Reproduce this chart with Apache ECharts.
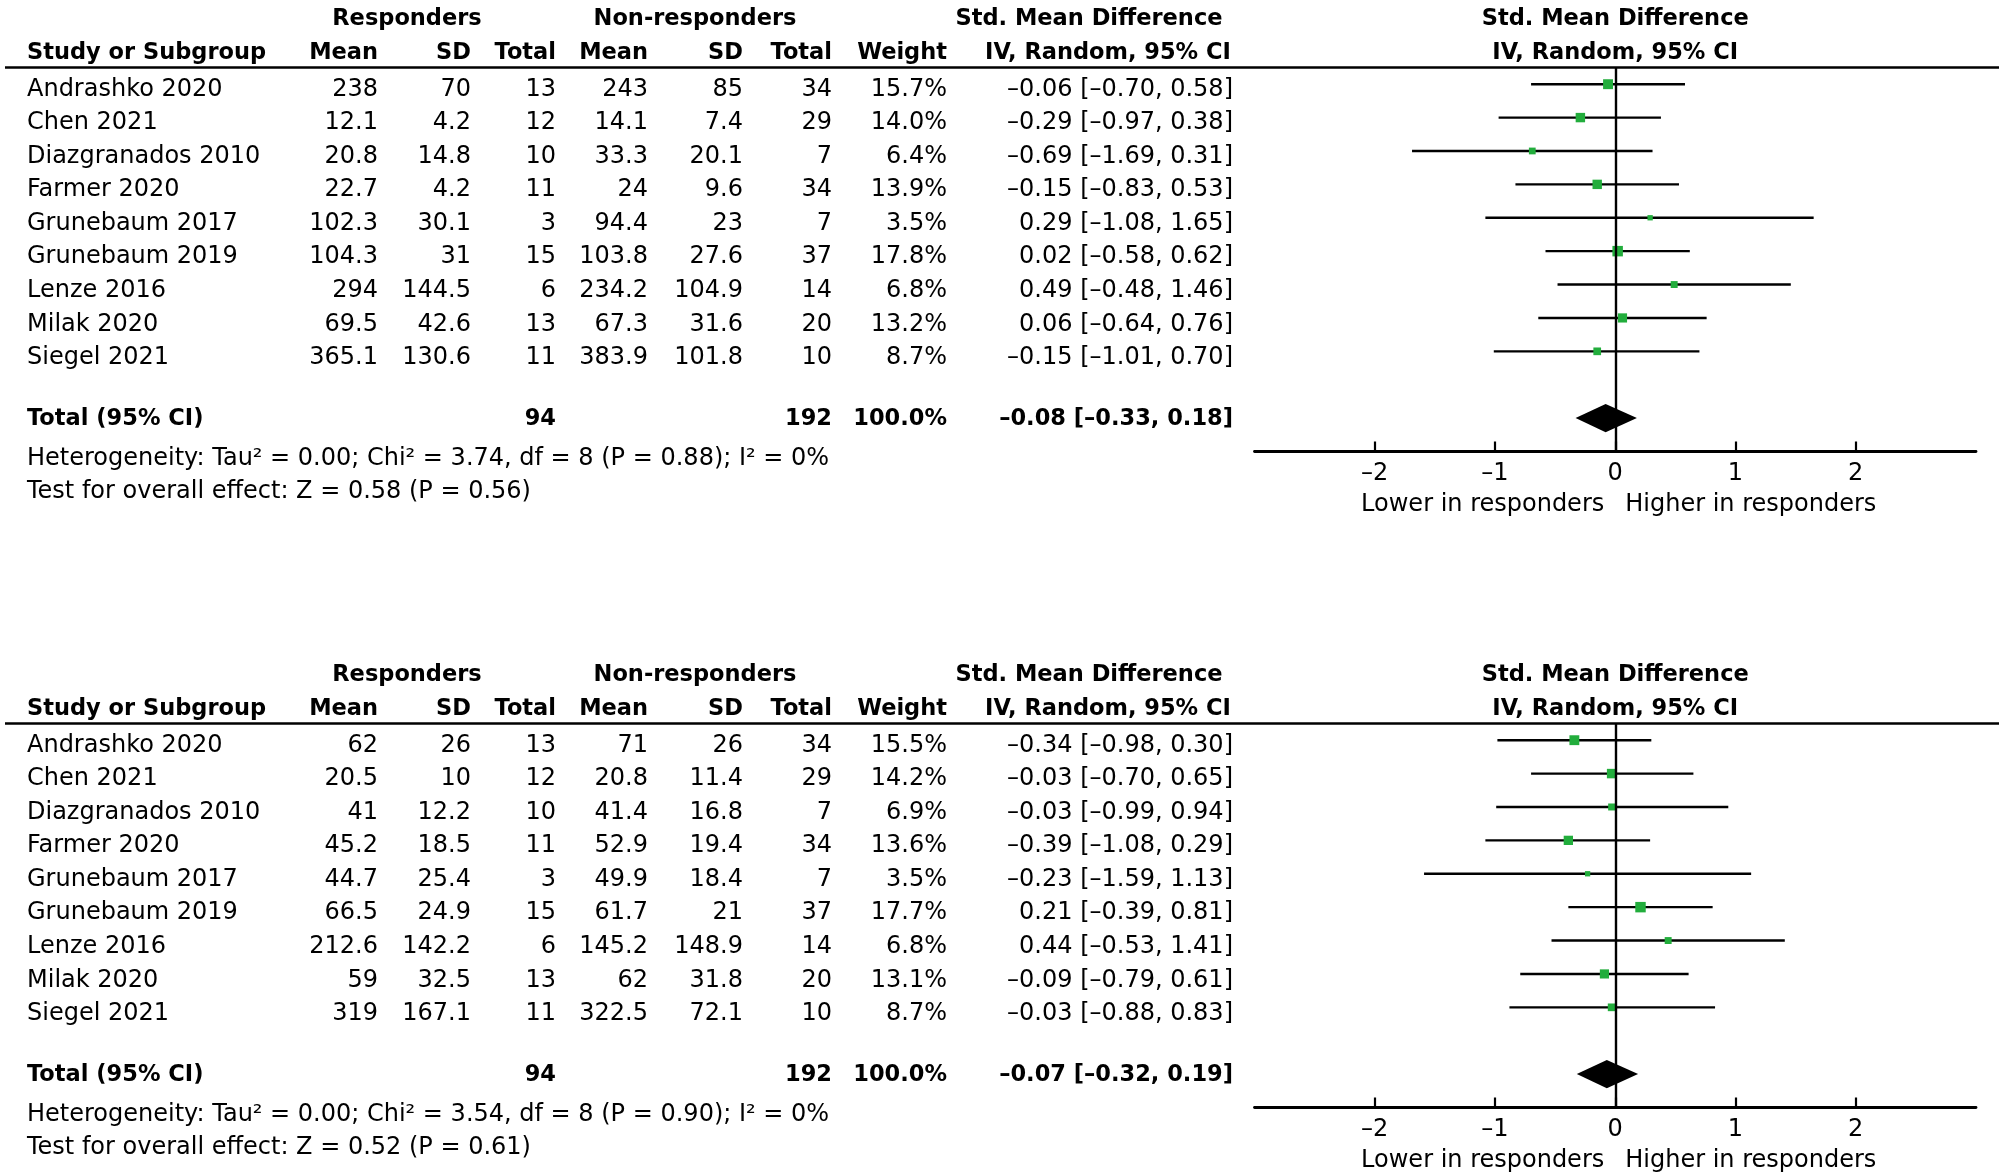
<!DOCTYPE html>
<html>
<head>
<meta charset="utf-8">
<script src="https://cdn.jsdelivr.net/npm/echarts@6/dist/echarts.min.js"></script>
<style>
html,body{margin:0;padding:0;background:#fff;}
#main{width:1999px;height:1176px;}
</style>
</head>
<body>
<div id="main"></div>
<script>
// ---------------- DATA ----------------
const studies = ['Andrashko 2020','Chen 2021','Diazgranados 2010','Farmer 2020','Grunebaum 2017','Grunebaum 2019','Lenze 2016','Milak 2020','Siegel 2021'];
const respN = [13, 12, 10, 11, 3, 15, 6, 13, 11];
const nonN  = [34, 29, 7, 34, 7, 37, 14, 20, 10];

// Panel A
const aRespMean = [238, 12.1, 20.8, 22.7, 102.3, 104.3, 294, 69.5, 365.1];
const aRespSD   = [70, 4.2, 14.8, 4.2, 30.1, 31, 144.5, 42.6, 130.6];
const aNonMean  = [243, 14.1, 33.3, 24, 94.4, 103.8, 234.2, 67.3, 383.9];
const aNonSD    = [85, 7.4, 20.1, 9.6, 23, 27.6, 104.9, 31.6, 101.8];
const aWeight   = [15.7, 14.0, 6.4, 13.9, 3.5, 17.8, 6.8, 13.2, 8.7];
const aSmd      = [-0.06, -0.29, -0.69, -0.15, 0.29, 0.02, 0.49, 0.06, -0.15];
const aLo       = [-0.70, -0.97, -1.69, -0.83, -1.08, -0.58, -0.48, -0.64, -1.01];
const aHi       = [0.58, 0.38, 0.31, 0.53, 1.65, 0.62, 1.46, 0.76, 0.70];
const aTotal    = [-0.08, -0.33, 0.18];
const aHet      = 'Heterogeneity: Tau² = 0.00; Chi² = 3.74, df = 8 (P = 0.88); I² = 0%';
const aTest     = 'Test for overall effect: Z = 0.58 (P = 0.56)';

// Panel B
const bRespMean = [62, 20.5, 41, 45.2, 44.7, 66.5, 212.6, 59, 319];
const bRespSD   = [26, 10, 12.2, 18.5, 25.4, 24.9, 142.2, 32.5, 167.1];
const bNonMean  = [71, 20.8, 41.4, 52.9, 49.9, 61.7, 145.2, 62, 322.5];
const bNonSD    = [26, 11.4, 16.8, 19.4, 18.4, 21, 148.9, 31.8, 72.1];
const bWeight   = [15.5, 14.2, 6.9, 13.6, 3.5, 17.7, 6.8, 13.1, 8.7];
const bSmd      = [-0.34, -0.03, -0.03, -0.39, -0.23, 0.21, 0.44, -0.09, -0.03];
const bLo       = [-0.98, -0.70, -0.99, -1.08, -1.59, -0.39, -0.53, -0.79, -0.88];
const bHi       = [0.30, 0.65, 0.94, 0.29, 1.13, 0.81, 1.41, 0.61, 0.83];
const bTotal    = [-0.07, -0.32, 0.19];
const bHet      = 'Heterogeneity: Tau² = 0.00; Chi² = 3.54, df = 8 (P = 0.90); I² = 0%';
const bTest     = 'Test for overall effect: Z = 0.52 (P = 0.61)';

const totalResp = 94, totalNon = 192, totalWeight = 100.0;
const xTicks = [-2, -1, 0, 1, 2];
const totalRow = 10;

// ---------------- LAYOUT / STYLE ----------------
const FONT = 'DejaVu Sans';
const FS = 24, FSB = 22.5;
const GREEN = '#22ad3c';
const PANEL_DY = 656;
const GRID_LEFT = 1254.5, GRID_W = 721.5, GRID_TOP = 67.5, GRID_H = 384;
const ZERO_X = GRID_LEFT + GRID_W / 2;
const COL = {study: 27, rMean: 378, rSD: 471, rN: 556, nMean: 648, nSD: 743, nN: 832, w: 947, ci: 1233};
const ROW0 = 89.5, ROWH = 33.55;

const dash = s => s.replace(/-/g, '–');
const fmtCI = (e, l, h) => dash(e.toFixed(2) + ' [' + l.toFixed(2) + ', ' + h.toFixed(2) + ']');

function T(x, y, s, align, bold) {
  return {type: 'text', x: x, y: y, silent: true,
    style: {text: s, fill: '#000', fontFamily: FONT, fontSize: bold ? FSB : FS,
            fontWeight: bold ? 'bold' : 'normal', align: align, verticalAlign: 'middle'}};
}

function panelGraphics(dy, rm, rsd, nm, nsd, w, e, lo, hi, tot, het, test) {
  const g = [];
  const h1 = 19.5 + dy;
  g.push(T(407, h1, 'Responders', 'center', true));
  g.push(T(695, h1, 'Non-responders', 'center', true));
  g.push(T(1089, h1, 'Std. Mean Difference', 'center', true));
  g.push(T(ZERO_X, h1, 'Std. Mean Difference', 'center', true));
  const h2 = 53 + dy;
  g.push(T(COL.study, h2, 'Study or Subgroup', 'left', true));
  g.push(T(COL.rMean, h2, 'Mean', 'right', true));
  g.push(T(COL.rSD, h2, 'SD', 'right', true));
  g.push(T(COL.rN, h2, 'Total', 'right', true));
  g.push(T(COL.nMean, h2, 'Mean', 'right', true));
  g.push(T(COL.nSD, h2, 'SD', 'right', true));
  g.push(T(COL.nN, h2, 'Total', 'right', true));
  g.push(T(COL.w, h2, 'Weight', 'right', true));
  g.push(T(1108, h2, 'IV, Random, 95% CI', 'center', true));
  g.push(T(ZERO_X, h2, 'IV, Random, 95% CI', 'center', true));
  g.push({type: 'line', silent: true, shape: {x1: 5, y1: GRID_TOP + dy, x2: 1999, y2: GRID_TOP + dy},
          style: {stroke: '#000', lineWidth: 2.5}});
  studies.forEach((s, i) => {
    const y = ROW0 + ROWH * i + dy;
    g.push(T(COL.study, y, s, 'left', false));
    g.push(T(COL.rMean, y, String(rm[i]), 'right', false));
    g.push(T(COL.rSD, y, String(rsd[i]), 'right', false));
    g.push(T(COL.rN, y, String(respN[i]), 'right', false));
    g.push(T(COL.nMean, y, String(nm[i]), 'right', false));
    g.push(T(COL.nSD, y, String(nsd[i]), 'right', false));
    g.push(T(COL.nN, y, String(nonN[i]), 'right', false));
    g.push(T(COL.w, y, w[i].toFixed(1) + '%', 'right', false));
    g.push(T(COL.ci, y, fmtCI(e[i], lo[i], hi[i]), 'right', false));
  });
  const ty = 419.5 + dy;
  g.push(T(COL.study, ty, 'Total (95% CI)', 'left', true));
  g.push(T(COL.rN, ty, String(totalResp), 'right', true));
  g.push(T(COL.nN, ty, String(totalNon), 'right', true));
  g.push(T(COL.w, ty, totalWeight.toFixed(1) + '%', 'right', true));
  g.push(T(COL.ci, ty, fmtCI(tot[0], tot[1], tot[2]), 'right', true));
  g.push(T(COL.study, 458.5 + dy, het, 'left', false));
  g.push(T(COL.study, 491.5 + dy, test, 'left', false));
  g.push(T(ZERO_X - 11, 504.5 + dy, 'Lower in responders', 'right', false));
  g.push(T(ZERO_X + 10, 504.5 + dy, 'Higher in responders', 'left', false));
  return g;
}

function axesFor(idx) {
  return {
    x: {type: 'value', gridIndex: idx, min: -3, max: 3, interval: 1, position: 'bottom',
        axisLine: {show: true, onZero: false, lineStyle: {color: '#000', width: 2.8}},
        axisTick: {show: true, inside: true, length: 10, customValues: xTicks, lineStyle: {color: '#000', width: 2.2}},
        axisLabel: {show: true, customValues: xTicks, margin: 10, color: '#000', fontFamily: FONT, fontSize: FS,
                    formatter: v => dash(String(v))},
        splitLine: {show: false}},
    y: {type: 'value', gridIndex: idx, min: -0.5, max: 11, inverse: true, show: false,
        splitLine: {show: false}}
  };
}

function panelSeries(idx, e, lo, hi, w, tot) {
  return [
    {type: 'custom', xAxisIndex: idx, yAxisIndex: idx, silent: true, z: 2,
     data: e.map((v, i) => [lo[i], hi[i], i]),
     renderItem: (params, api) => {
       const a = api.coord([api.value(0), api.value(2)]);
       const b = api.coord([api.value(1), api.value(2)]);
       return {type: 'line', shape: {x1: a[0], y1: a[1], x2: b[0], y2: b[1]},
               style: {stroke: '#000', lineWidth: 2.4}};
     },
     markLine: {silent: true, symbol: 'none', label: {show: false},
                lineStyle: {color: '#000', width: 2.4, type: 'solid'},
                data: [{xAxis: 0}]}},
    {type: 'scatter', xAxisIndex: idx, yAxisIndex: idx, silent: true, z: 3,
     symbol: 'rect',
     symbolSize: val => { const s = 1.2 + 2.2 * Math.sqrt(val[2]); return [s, s]; },
     itemStyle: {color: GREEN, opacity: 1},
     data: e.map((v, i) => [v, i, w[i]])},
    {type: 'custom', xAxisIndex: idx, yAxisIndex: idx, silent: true, z: 4,
     data: [[tot[1], tot[0], tot[2], totalRow]],
     renderItem: (params, api) => {
       const l = api.coord([api.value(0), api.value(3)]);
       const c = api.coord([api.value(1), api.value(3)]);
       const r = api.coord([api.value(2), api.value(3)]);
       const hh = 14.2;
       return {type: 'polygon', shape: {points: [[l[0], l[1]], [c[0], c[1] - hh], [r[0], r[1]], [c[0], c[1] + hh]]},
               style: {fill: '#000'}};
     }}
  ];
}

const ax0 = axesFor(0), ax1 = axesFor(1);
const option = {
  backgroundColor: '#fff',
  animation: false,
  grid: [
    {left: GRID_LEFT, top: GRID_TOP, width: GRID_W, height: GRID_H, outerBoundsMode: 'none'},
    {left: GRID_LEFT, top: GRID_TOP + PANEL_DY, width: GRID_W, height: GRID_H, outerBoundsMode: 'none'}
  ],
  xAxis: [ax0.x, ax1.x],
  yAxis: [ax0.y, ax1.y],
  series: [].concat(
    panelSeries(0, aSmd, aLo, aHi, aWeight, aTotal),
    panelSeries(1, bSmd, bLo, bHi, bWeight, bTotal)
  ),
  graphic: [].concat(
    panelGraphics(0, aRespMean, aRespSD, aNonMean, aNonSD, aWeight, aSmd, aLo, aHi, aTotal, aHet, aTest),
    panelGraphics(PANEL_DY, bRespMean, bRespSD, bNonMean, bNonSD, bWeight, bSmd, bLo, bHi, bTotal, bHet, bTest)
  )
};
const chart = echarts.init(document.getElementById('main'), null, {renderer: 'canvas'});
chart.setOption(option);
</script>
</body>
</html>
